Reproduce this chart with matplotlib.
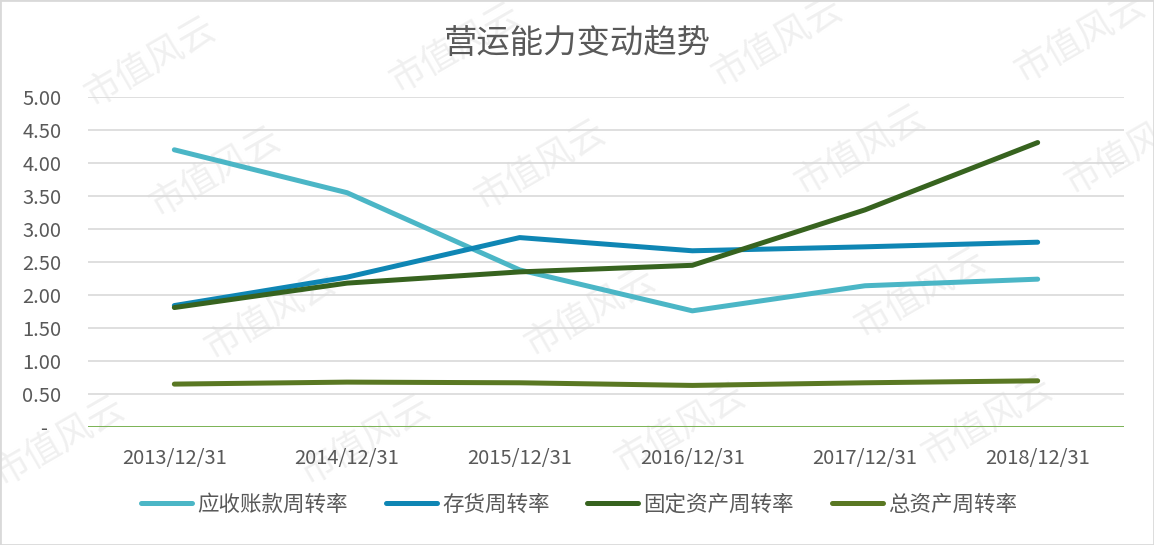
import numpy as np
import matplotlib
matplotlib.use("Agg")
import matplotlib.pyplot as plt
from matplotlib.patches import Rectangle

plt.rcParams['font.family'] = ['Noto Sans CJK SC', 'DejaVu Sans']

# data
dates = ['2013/12/31', '2014/12/31', '2015/12/31', '2016/12/31', '2017/12/31', '2018/12/31']
ar_turnover = [4.20, 3.55, 2.38, 1.76, 2.14, 2.24]
inv_turnover = [1.84, 2.27, 2.87, 2.67, 2.73, 2.80]
fixed_turnover = [1.81, 2.18, 2.35, 2.45, 3.29, 4.31]
total_turnover = [0.65, 0.68, 0.67, 0.63, 0.67, 0.70]

series_names = ['应收账款周转率', '存货周转率', '固定资产周转率', '总资产周转率']
series_colors = ['#4BB6C6', '#0F86B4', '#37631F', '#5A7823']

y_ticks = [0, 0.5, 1.0, 1.5, 2.0, 2.5, 3.0, 3.5, 4.0, 4.5, 5.0]
y_ticklabels = ['-   ' if v == 0 else '%.2f' % v for v in y_ticks]

text_grey = '#595959'

fig = plt.figure(figsize=(11.54, 5.45), dpi=100)
ax = fig.add_axes([88/1154, 1 - 427/545, 1036/1154, 330/545])

x = np.arange(len(dates))
for vals, name, col in zip([ar_turnover, inv_turnover, fixed_turnover, total_turnover],
                           series_names, series_colors):
    ax.plot(x, vals, color=col, lw=3.6, label=name,
            solid_capstyle='round', solid_joinstyle='round', zorder=3)

ax.set_xlim(-0.5, len(dates) - 0.5)
ax.set_ylim(0, 5)
ax.set_yticks(y_ticks)
ax.set_yticklabels(y_ticklabels)
ax.set_xticks(x)
ax.set_xticklabels(dates)

#grid and spines
for v in y_ticks[1:]:
    ax.axhline(v, color='#D9D9D9', lw=1.2, zorder=1)
ax.axhline(0, color='#70AD47', lw=1.3, zorder=2)
for s in ax.spines.values():
    s.set_visible(False)
ax.tick_params(axis='both', length=0, labelsize=14.5, colors=text_grey)
ax.tick_params(axis='y', pad=19)
ax.tick_params(axis='x', pad=15)
ax.patch.set_alpha(0)

fig.text(0.5, 1 - 43/545, '营运能力变动趋势', ha='center', va='center',
         fontsize=24, color=text_grey)

fig.legend(loc='center', bbox_to_anchor=(579/1154, 1 - 505/545), ncol=4,
           frameon=False, fontsize=15.5, handlelength=2.37, handletextpad=0.25,
           columnspacing=1.75, labelcolor=text_grey)

# watermark, kept behind the axes
wm_pos = [(150, 62), (455, 48), (777, 42), (1080, 38),
          (215, 172), (540, 165), (860, 150), (1130, 150),
          (270, 315), (590, 312), (920, 293),
          (59, 441), (365, 440), (680, 428), (987, 421)]
for px, py in wm_pos:
    fig.text(px/1154, 1 - py/545, '市值风云', ha='center', va='center',
             rotation=30, fontsize=26, color='#F0F0F0', zorder=-1)

fig.patches.append(Rectangle((0, 0), 1, 1, transform=fig.transFigure,
                             fill=False, edgecolor='#D9D9D9', lw=2))

fig.savefig('out.png', dpi=100)
